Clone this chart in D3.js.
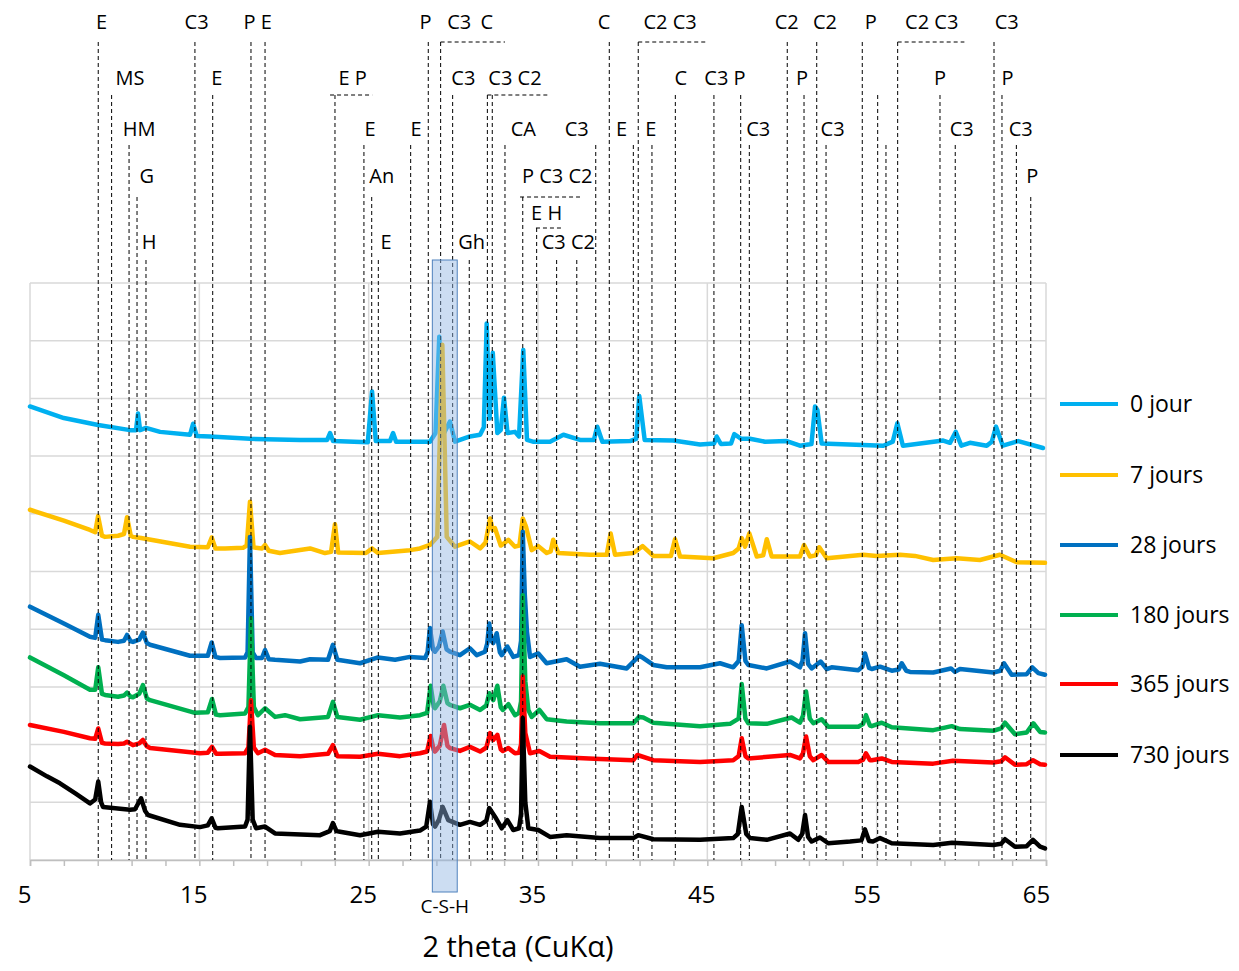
<!DOCTYPE html>
<html><head><meta charset="utf-8">
<script src="https://cdn.jsdelivr.net/npm/d3@7"></script>
<style>body{margin:0;background:#fff} svg{display:block} text{font-family:"Open Sans",sans-serif;fill:#000}</style>
</head><body><svg id="c" width="1239" height="971"></svg>
<script>
// ---------- data ----------
const xTickLabels = [5,15,25,35,45,55,65];
const seriesNames = ["0 jour","7 jours","28 jours","180 jours","365 jours","730 jours"];
const jour0 = [[5.00,7.86],[7.00,7.66],[9.02,7.54],[10.91,7.45],[11.26,7.45],[11.38,7.74],[11.50,7.45],[11.85,7.49],[12.68,7.42],[14.45,7.37],[14.63,7.56],[14.85,7.35],[15.63,7.34],[18.00,7.30],[20.95,7.28],[22.55,7.28],[22.72,7.40],[22.90,7.26],[24.95,7.24],[25.20,8.12],[25.42,7.26],[26.26,7.26],[26.44,7.40],[26.62,7.25],[28.62,7.25],[28.95,7.40],[29.17,9.07],[29.40,7.37],[29.80,7.60],[30.10,7.25],[30.98,7.34],[31.58,7.37],[31.80,7.50],[31.97,9.30],[32.14,7.65],[32.33,8.79],[32.60,7.40],[32.80,7.45],[32.99,8.01],[33.20,7.40],[33.64,7.42],[33.88,7.34],[34.13,8.84],[34.35,7.28],[34.70,7.25],[35.71,7.25],[36.50,7.37],[37.48,7.28],[38.30,7.28],[38.50,7.51],[38.80,7.25],[40.43,7.26],[40.80,7.30],[40.98,8.04],[41.30,7.28],[42.99,7.27],[44.57,7.20],[45.40,7.22],[45.55,7.34],[45.80,7.21],[46.40,7.22],[46.59,7.38],[47.00,7.30],[47.52,7.30],[48.41,7.25],[49.69,7.26],[50.47,7.18],[51.15,7.21],[51.36,7.86],[51.50,7.80],[51.75,7.22],[55.39,7.18],[55.95,7.25],[56.22,7.57],[56.55,7.18],[58.93,7.27],[59.33,7.23],[59.67,7.42],[60.00,7.18],[60.51,7.23],[61.50,7.18],[61.80,7.25],[62.05,7.51],[62.45,7.18],[63.36,7.26],[64.82,7.14]];
const jours7 = [[5.00,6.07],[7.00,5.88],[8.54,5.72],[8.85,5.68],[9.02,5.96],[9.25,5.62],[9.43,5.60],[10.20,5.62],[10.55,5.65],[10.73,5.94],[10.95,5.62],[11.08,5.60],[11.56,5.58],[14.45,5.43],[15.50,5.42],[15.73,5.59],[15.95,5.40],[16.52,5.40],[17.58,5.41],[17.80,5.45],[17.99,6.21],[18.20,5.42],[18.35,5.41],[18.70,5.40],[18.88,5.46],[19.10,5.36],[19.76,5.32],[21.54,5.40],[22.42,5.32],[22.78,5.34],[23.01,5.82],[23.20,5.33],[24.84,5.32],[25.20,5.40],[25.55,5.32],[27.44,5.37],[28.03,5.40],[28.62,5.46],[29.05,5.60],[29.35,8.93],[29.61,5.60],[30.10,5.43],[30.98,5.52],[31.58,5.40],[31.90,5.50],[32.17,5.92],[32.33,5.72],[32.46,5.75],[32.80,5.45],[33.05,5.50],[33.25,5.55],[33.64,5.43],[33.90,5.45],[34.10,5.92],[34.29,5.78],[34.63,5.37],[35.02,5.44],[35.51,5.32],[35.75,5.35],[35.90,5.55],[36.20,5.32],[38.07,5.29],[39.06,5.29],[39.29,5.66],[39.55,5.29],[40.63,5.32],[41.18,5.44],[41.81,5.27],[42.85,5.27],[43.09,5.56],[43.39,5.26],[45.35,5.23],[46.53,5.32],[46.85,5.40],[47.03,5.58],[47.23,5.43],[47.48,5.66],[47.92,5.26],[48.30,5.28],[48.51,5.56],[48.80,5.26],[50.47,5.26],[50.71,5.46],[51.06,5.26],[51.40,5.28],[51.61,5.42],[52.05,5.23],[54.21,5.29],[54.99,5.27],[56.38,5.29],[57.26,5.27],[58.34,5.20],[59.72,5.23],[61.10,5.20],[62.28,5.29],[63.27,5.16],[64.94,5.15]];
const jours28 = [[5.00,4.39],[7.00,4.10],[8.54,3.87],[8.85,3.85],[9.03,4.25],[9.25,3.82],[9.43,3.81],[10.20,3.78],[10.55,3.80],[10.73,3.90],[10.95,3.79],[11.08,3.78],[11.45,3.82],[11.67,3.94],[11.90,3.76],[12.09,3.73],[14.45,3.54],[15.50,3.54],[15.73,3.77],[15.95,3.52],[16.22,3.50],[17.70,3.51],[17.85,3.60],[17.99,5.60],[18.15,3.60],[18.35,3.50],[18.70,3.50],[18.88,3.64],[19.10,3.48],[19.47,3.47],[20.95,3.44],[21.54,3.48],[22.60,3.47],[22.89,3.73],[23.15,3.47],[24.49,3.41],[25.55,3.51],[26.56,3.47],[27.44,3.52],[28.33,3.50],[28.48,3.60],[28.62,4.02],[28.80,3.65],[28.92,3.61],[29.15,3.70],[29.37,3.96],[29.60,3.65],[29.80,3.61],[30.39,3.55],[30.98,3.67],[31.38,3.55],[31.87,3.61],[32.00,3.75],[32.12,4.10],[32.25,3.80],[32.36,3.76],[32.56,3.93],[32.75,3.60],[32.86,3.55],[33.19,3.70],[33.54,3.52],[33.88,3.55],[34.00,3.80],[34.10,5.69],[34.22,4.60],[34.35,3.95],[34.53,3.52],[35.02,3.58],[35.51,3.41],[36.69,3.48],[37.48,3.35],[38.66,3.40],[40.24,3.32],[40.98,3.54],[41.22,3.50],[41.81,3.38],[42.60,3.34],[44.57,3.34],[45.75,3.41],[46.53,3.34],[46.85,3.45],[47.03,4.07],[47.25,3.45],[47.42,3.38],[48.51,3.32],[49.88,3.44],[50.47,3.34],[50.62,3.45],[50.77,3.93],[50.95,3.40],[51.16,3.32],[51.69,3.44],[52.05,3.31],[52.34,3.34],[53.92,3.29],[54.15,3.35],[54.31,3.58],[54.55,3.33],[54.71,3.31],[55.20,3.35],[55.89,3.28],[56.30,3.30],[56.48,3.41],[56.75,3.28],[56.97,3.26],[58.34,3.25],[59.39,3.32],[59.62,3.26],[59.92,3.31],[61.89,3.25],[62.30,3.28],[62.52,3.41],[62.97,3.21],[63.86,3.22],[64.19,3.34],[64.55,3.24],[64.94,3.21]];
const jours180 = [[5.00,3.51],[7.00,3.20],[8.54,2.95],[8.85,2.95],[9.03,3.34],[9.25,2.88],[9.43,2.86],[10.20,2.83],[10.55,2.85],[10.73,2.90],[10.95,2.83],[11.08,2.82],[11.45,2.88],[11.67,3.03],[11.90,2.80],[12.09,2.77],[14.74,2.55],[15.50,2.56],[15.75,2.79],[15.98,2.52],[16.22,2.51],[17.70,2.54],[17.90,2.65],[18.05,4.19],[18.22,2.65],[18.46,2.51],[18.88,2.63],[19.47,2.48],[20.06,2.51],[20.95,2.44],[22.60,2.48],[22.89,2.74],[23.15,2.48],[24.49,2.43],[25.55,2.51],[26.85,2.47],[28.03,2.51],[28.45,2.55],[28.66,3.02],[28.85,2.65],[28.92,2.63],[29.20,2.75],[29.41,3.02],[29.65,2.72],[29.80,2.69],[30.39,2.63],[30.98,2.69],[31.58,2.60],[31.95,2.68],[32.12,2.89],[32.36,2.77],[32.60,3.02],[32.80,2.65],[32.92,2.60],[33.25,2.70],[33.64,2.51],[33.88,2.55],[34.00,2.75],[34.10,4.59],[34.25,3.10],[34.43,2.60],[34.63,2.48],[35.08,2.60],[35.51,2.44],[36.69,2.40],[38.66,2.37],[40.63,2.37],[40.98,2.48],[41.22,2.47],[41.81,2.38],[44.57,2.32],[46.34,2.36],[46.85,2.45],[47.03,3.05],[47.25,2.45],[47.42,2.37],[48.51,2.36],[49.98,2.47],[50.47,2.38],[50.65,2.50],[50.83,2.92],[51.05,2.45],[51.26,2.37],[51.75,2.44],[52.14,2.31],[53.92,2.31],[54.20,2.36],[54.37,2.51],[54.60,2.33],[54.71,2.32],[55.30,2.38],[55.89,2.30],[58.34,2.25],[59.43,2.32],[59.92,2.27],[61.89,2.24],[62.35,2.28],[62.58,2.38],[63.17,2.18],[63.86,2.21],[64.25,2.37],[64.65,2.22],[64.94,2.21]];
const jours365 = [[5.00,2.34],[7.00,2.22],[8.54,2.11],[8.85,2.10],[9.03,2.28],[9.25,2.03],[9.43,2.02],[10.20,2.01],[10.55,2.02],[10.73,2.05],[11.08,1.99],[11.45,2.02],[11.67,2.08],[11.90,1.97],[12.09,1.94],[15.04,1.85],[15.50,1.86],[15.75,1.96],[16.00,1.84],[16.22,1.84],[17.70,1.85],[17.90,1.95],[18.05,2.77],[18.22,1.95],[18.46,1.85],[18.88,1.91],[19.47,1.82],[20.95,1.80],[22.60,1.84],[22.89,1.99],[23.15,1.80],[24.49,1.79],[25.55,1.84],[26.85,1.80],[28.03,1.85],[28.45,1.88],[28.66,2.15],[28.85,1.90],[28.92,1.88],[29.20,1.98],[29.45,2.34],[29.65,1.98],[29.80,1.94],[30.39,1.89],[30.98,1.96],[31.58,1.88],[31.95,1.95],[32.17,2.20],[32.36,2.08],[32.60,2.17],[32.80,1.92],[32.92,1.89],[33.25,1.94],[33.64,1.85],[33.88,1.86],[34.00,2.00],[34.10,3.18],[34.25,2.20],[34.53,1.85],[35.08,1.89],[35.71,1.79],[38.66,1.75],[40.63,1.73],[40.87,1.82],[41.81,1.73],[44.57,1.70],[46.53,1.73],[46.85,1.80],[47.03,2.11],[47.25,1.80],[47.42,1.76],[49.88,1.82],[50.47,1.76],[50.65,1.85],[50.83,2.14],[51.05,1.80],[51.26,1.73],[51.75,1.82],[52.14,1.70],[53.92,1.70],[54.20,1.74],[54.37,1.85],[54.60,1.73],[54.71,1.73],[55.30,1.76],[55.89,1.70],[58.34,1.67],[59.50,1.72],[61.89,1.69],[62.35,1.71],[62.58,1.78],[63.17,1.65],[63.86,1.66],[64.23,1.73],[64.65,1.66],[64.94,1.65]];
const jours730 = [[5.00,1.62],[6.00,1.45],[6.77,1.33],[7.70,1.15],[8.54,0.98],[8.85,1.05],[9.03,1.36],[9.20,1.00],[9.31,0.92],[10.91,0.87],[11.20,0.88],[11.56,1.07],[11.80,0.85],[11.97,0.78],[13.86,0.61],[15.04,0.57],[15.50,0.60],[15.73,0.72],[15.95,0.56],[16.10,0.55],[17.70,0.58],[17.85,0.70],[17.99,2.31],[18.15,0.70],[18.35,0.55],[18.88,0.58],[19.47,0.46],[22.13,0.43],[22.70,0.50],[22.89,0.64],[23.10,0.50],[23.31,0.49],[24.49,0.43],[25.55,0.49],[26.85,0.46],[28.03,0.51],[28.40,0.58],[28.62,1.01],[28.80,0.62],[28.92,0.58],[29.15,0.70],[29.37,0.92],[29.70,0.69],[30.39,0.61],[30.98,0.66],[31.58,0.61],[31.95,0.68],[32.12,0.90],[32.46,0.75],[32.86,0.55],[33.19,0.69],[33.54,0.52],[33.88,0.55],[34.00,0.80],[34.10,2.46],[34.25,1.00],[34.43,0.55],[35.02,0.52],[35.71,0.40],[36.69,0.43],[38.66,0.38],[40.63,0.38],[40.92,0.43],[41.81,0.36],[44.57,0.35],[46.53,0.38],[46.80,0.45],[47.03,0.92],[47.30,0.45],[47.52,0.38],[48.51,0.35],[49.88,0.46],[50.37,0.35],[50.60,0.45],[50.77,0.78],[50.95,0.40],[51.16,0.32],[51.65,0.39],[52.14,0.29],[53.43,0.32],[54.10,0.34],[54.31,0.53],[54.55,0.33],[54.78,0.32],[55.20,0.38],[55.89,0.29],[58.34,0.26],[59.45,0.30],[61.89,0.26],[62.35,0.28],[62.58,0.36],[63.17,0.23],[63.86,0.24],[64.23,0.35],[64.65,0.23],[64.94,0.20]];
// reference phase lines: [2theta, label row where the line starts]
const refLines = [[9.03,1],[14.74,1],[18.05,1],[18.88,1],[28.52,1],[29.25,1],[39.21,1],[40.92,1],[49.72,1],[51.46,1],[54.15,1],[56.24,1],[61.93,1],
  [9.82,2],[15.79,2],[23.01,2],[29.96,2],[32.01,2],[32.30,2],[43.11,2],[45.39,2],[46.97,2],[50.71,2],[55.06,2],[58.74,2],[62.40,2],
  [10.85,3],[24.72,3],[27.48,3],[33.05,3],[38.41,3],[40.63,3],[41.73,3],[47.48,3],[52.01,3],[55.55,3],[59.64,3],[63.25,3],
  [11.32,4],[25.18,4],[34.10,4],[64.10,4],[34.92,5],
  [11.85,6],[25.57,6],[30.94,6],[36.10,6],[37.29,6]];
// brackets: [from, to, row]
const brackets = [[29.25,33.05,1],[40.92,44.96,1],[56.24,60.18,1],[22.72,25.21,2],[32.01,35.55,2],[33.94,37.48,4],[34.88,36.36,5]];
// phase labels: [text, 2theta centre, row]
const phaseLabels = [["E",9.23,1],["C3",14.84,1],["P E",18.45,1],["P",28.35,1],["C3",30.35,1],["C",31.97,1],["C",38.90,1],["C2 C3",42.80,1],["C2",49.69,1],["C2",51.95,1],["P",54.65,1],["C2 C3",58.25,1],["C3",62.68,1],
  ["MS",10.91,2],["E",16.03,2],["E P",24.06,2],["C3",30.59,2],["C3 C2",33.64,2],["C",43.43,2],["C3 P",46.04,2],["P",50.59,2],["P",58.74,2],["P",62.72,2],
  ["HM",11.45,3],["E",25.08,3],["E",27.80,3],["CA",34.13,3],["C3",37.29,3],["E",39.94,3],["E",41.66,3],["C3",48.01,3],["C3",52.40,3],["C3",60.02,3],["C3",63.51,3],
  ["G",11.89,4],["An",25.77,4],["P C3 C2",36.14,4],["P",64.19,4],
  ["E H",35.51,5],
  ["H",12.03,6],["E",26.02,6],["Gh",31.08,6],["C3 C2",36.79,6]];
const cshBand = [28.76, 30.23];
const cshLabel = "C-S-H";
const xTitle = "2 theta (CuK\u03b1)";

// ---------- styles / layout ----------
const colors = ["#00b0f0","#ffc000","#0070c0","#00b050","#ff0000","#000000"];
const series = [jour0, jours7, jours28, jours180, jours365, jours730];
const svg = d3.select("#c");
const x = d3.scaleLinear().domain([5,65]).range([30,1046]);
const y = d3.scaleLinear().domain([0,10]).range([860,283]);
const labelRowY = {1:22,2:78,3:129,4:176,5:213,6:242};
const lineRowY = {1:42,2:95,3:145,4:197,5:228,6:260};

// grid
svg.append("g").selectAll("line").data(d3.range(0,11)).join("line")
  .attr("x1",x(5)).attr("x2",x(65)).attr("y1",d=>y(d)).attr("y2",d=>y(d))
  .attr("stroke","#d9d9d9").attr("stroke-width",1.5);
svg.append("g").selectAll("line").data(xTickLabels).join("line")
  .attr("x1",d=>x(d)).attr("x2",d=>x(d)).attr("y1",y(10)).attr("y2",y(0))
  .attr("stroke","#d9d9d9").attr("stroke-width",1.5);

// axis ticks
const axG = svg.append("g").attr("transform",`translate(0,${y(0)})`)
  .call(d3.axisBottom(x).tickValues(d3.range(5,66,2)).tickSize(6).tickFormat(""));
axG.selectAll("line,path").attr("stroke","#bfbfbf").attr("stroke-width",1.5);
const lbG = svg.append("g").attr("transform",`translate(0,${y(0)})`)
  .call(d3.axisBottom(x).tickValues(xTickLabels).tickSize(0).tickPadding(26).tickFormat(d3.format("d")));
lbG.select("path").remove();
lbG.selectAll("text").attr("font-size",24).attr("dx",(d,i)=> i>=5 ? -10 : -6).style("font-family","'Open Sans',sans-serif").attr("fill","#000");

// curves
const line = d3.line().x(d=>x(d[0])).y(d=>y(d[1]));
svg.append("g").selectAll("path").data(series).join("path")
  .attr("d",line).attr("fill","none").attr("stroke",(d,i)=>colors[i])
  .attr("stroke-width",4.5).attr("stroke-linejoin","round").attr("stroke-linecap","round");

// dashed reference lines
const dg = svg.append("g").attr("stroke","#000").attr("stroke-width",1).attr("stroke-dasharray","4,3").attr("fill","none");
dg.selectAll("line.v").data(refLines).join("line").attr("class","v")
  .attr("x1",d=>x(d[0])).attr("x2",d=>x(d[0])).attr("y1",d=>lineRowY[d[1]]).attr("y2",y(0));
dg.selectAll("line.h").data(brackets).join("line").attr("class","h")
  .attr("x1",d=>x(d[0])).attr("x2",d=>x(d[1])).attr("y1",d=>lineRowY[d[2]]).attr("y2",d=>lineRowY[d[2]]);

// phase labels
svg.append("g").selectAll("text").data(phaseLabels).join("text")
  .attr("x",d=>x(d[1])).attr("y",d=>labelRowY[d[2]]).attr("dy","0.35em")
  .attr("text-anchor","middle").attr("font-size",20).style("white-space","pre").text(d=>d[0]);

// C-S-H band
svg.append("rect").attr("x",x(cshBand[0])).attr("width",x(cshBand[1])-x(cshBand[0]))
  .attr("y",260).attr("height",632).attr("fill","#8db4e2").attr("fill-opacity",0.45)
  .attr("stroke","#4f81bd").attr("stroke-width",1);
svg.append("text").attr("x",x((cshBand[0]+cshBand[1])/2)).attr("y",913)
  .attr("text-anchor","middle").attr("font-size",19).text(cshLabel);

// axis title
svg.append("text").attr("x",518).attr("y",957).attr("text-anchor","middle").attr("font-size",29).text(xTitle);

// legend
const lg = svg.append("g").selectAll("g").data(seriesNames).join("g")
  .attr("transform",(d,i)=>`translate(1060,${[404,475,545,615,684,755][i]})`);
lg.append("line").attr("x1",0).attr("x2",58).attr("stroke",(d,i)=>colors[i]).attr("stroke-width",4);
lg.append("text").attr("x",70).attr("dy","0.35em").attr("font-size",23).text(d=>d);
</script></body></html>
